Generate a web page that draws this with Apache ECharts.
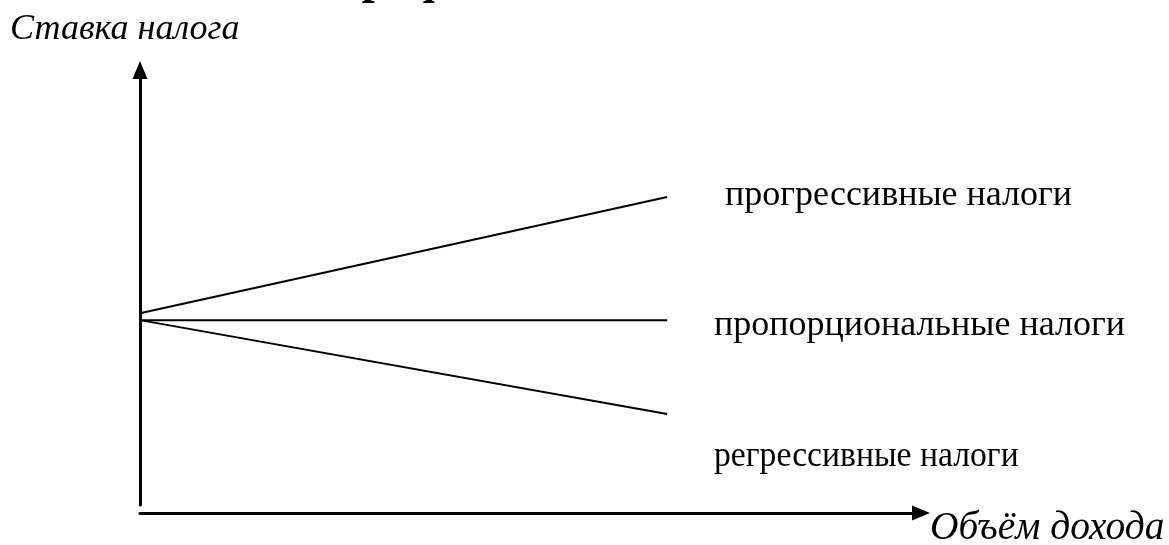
<!DOCTYPE html>
<html>
<head>
<meta charset="utf-8">
<script src="https://cdn.jsdelivr.net/npm/echarts@6/dist/echarts.min.js"></script>
<style>
  html, body { margin: 0; padding: 0; background: #fff; }
  #chart { width: 1169px; height: 545px; }
</style>
</head>
<body>
<div id="chart"></div>
<script>
// income volume (x) at the two ends of each line
let incomeX = [0, 67.5];

// tax rate (y) for each kind of tax
let progressiveRate = [44.1, 70.8];
let proportionalRate = [42.5, 42.5];
let regressiveRate = [42.5, 20.9];

let seriesNames = ['прогрессивные налоги', 'пропорциональные налоги', 'регрессивные налоги'];
let axisNames = ['Ставка налога', 'Объём дохода'];

const serif = "'Liberation Serif', 'Times New Roman', serif";

let toPairs = (ys) => incomeX.map((x, i) => [x, ys[i]]);

let lineSeries = (name, ys) => {
  return {
    name: name,
    type: 'line',
    data: toPairs(ys),
    symbol: 'none',
    silent: true,
    lineStyle: { color: '#000', width: 2 }
  };
};

let axisStyle = (offset) => {
  return {
    type: 'value',
    min: 0,
    max: 100,
    offset: offset,
    axisLine: {
      show: true,
      onZero: false,
      symbol: ['none', 'triangle'],
      symbolSize: [15, 18],
      lineStyle: { color: '#000', width: 3 }
    },
    axisTick: { show: false },
    axisLabel: { show: false },
    splitLine: { show: false }
  };
};

let chart = echarts.init(document.getElementById('chart'));

let options = {
  animation: false,
  backgroundColor: '#fff',
  grid: { left: 140, right: 248, top: 70, bottom: 40 },
  xAxis: axisStyle(8),
  yAxis: axisStyle(0),
  series: [
    lineSeries(seriesNames[0], progressiveRate),
    lineSeries(seriesNames[1], proportionalRate),
    lineSeries(seriesNames[2], regressiveRate)
  ],
  graphic: [
    // title, mostly cut off at the top edge
    {
      type: 'text', left: 334, top: -43,
      style: { text: 'Графики', font: 'bold 48px ' + serif, fill: '#000' }
    },
    {
      type: 'text', left: 10, top: 12,
      style: { text: axisNames[0], font: 'italic 36px ' + serif, fill: '#000' }
    },
    {
      type: 'text', x: 930, y: 508, scaleX: 0.985,
      style: { text: axisNames[1], font: 'italic 40px ' + serif, fill: '#000' }
    },
    {
      type: 'text', left: 725, top: 178,
      style: { text: seriesNames[0], font: '36px ' + serif, fill: '#000' }
    },
    {
      type: 'text', left: 714, top: 308,
      style: { text: seriesNames[1], font: '36px ' + serif, fill: '#000' }
    },
    {
      type: 'text', x: 714, y: 439, scaleX: 0.935,
      style: { text: seriesNames[2], font: '36px ' + serif, fill: '#000' }
    }
  ]
};

chart.setOption(options);
</script>
</body>
</html>
